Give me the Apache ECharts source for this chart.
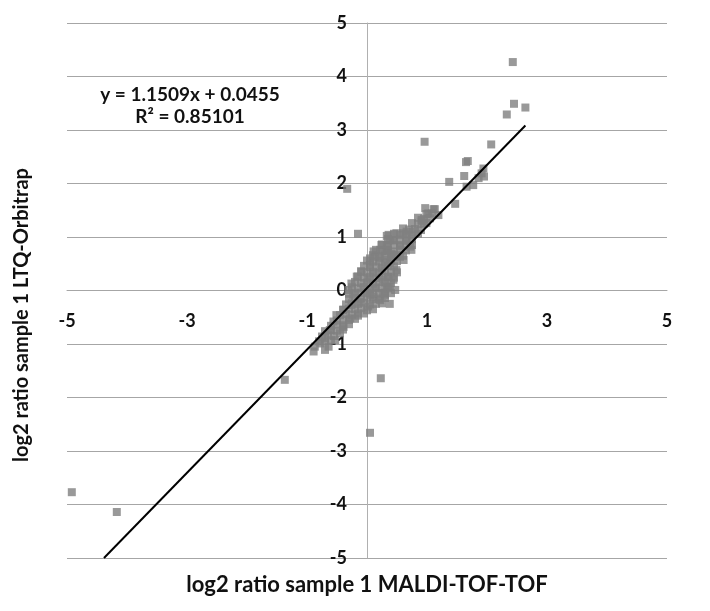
<!DOCTYPE html>
<html>
<head>
<meta charset="utf-8">
<script src="https://cdn.jsdelivr.net/npm/echarts@6/dist/echarts.min.js"></script>
<style>html,body{margin:0;padding:0;background:#fff;}#c{width:710px;height:611px;}</style>
</head>
<body>
<div id="c"></div>
<script>
// MALDI-TOF-TOF log2 ratios (x)
const maldiX = [
  -4.92, -4.17, -1.37, 0.23, 0.05, -0.33, -0.15, 0.96, 2.43, 2.45, 2.64, 2.33, 2.07, 1.68, 1.65, 1.62, 1.37, 1.94, 1.91, 1.95, 1.86, 1.77, 1.66, 1.47, 1.11, 0.99, 1.19, 0.91,
  0.97, 1.08, 0.91, 0.99, 0.77, 0.61, 0.36, 0.44, 0.66, 0.24, 0.55, 0.72, 0.11, 0.33, 0.44, 0.05, 0.22, 0.55,
  0.33, 0.22, 0.41, 0.13, 0.33, 0.05, 0.24, -0.09, 0.11, -0.17, 0.02, 0.27, -0.26, -0.06, 0.13, 0.38, -0.31, -0.23, 0.05, 0.27, 0.47,
  0.33, 0.74, 0.38, 0.61, 0.49, 0.36, 0.44, 0.33, 0.30, 0.38, 0.22,
  0.00, 0.11, -0.12, 0.02, -0.26, -0.39, -0.15, -0.51, -0.28, -0.56, -0.39, -0.62, -0.45, -0.70, -0.53, -0.78, -0.64, -0.87, -0.89, -0.70,
  0.33, 0.38, 0.49, 0.66, 1.02, 1.13,
  -0.80, -0.70, -0.60,
  -0.75, -0.65, -0.55,
  -0.70, -0.60, -0.50, -0.40,
  -0.60, -0.50, -0.40, -0.30,
  -0.50, -0.40, -0.30, -0.20,
  -0.45, -0.35, -0.25, -0.15, -0.05,
  -0.40, -0.30, -0.20, -0.10, 0.00, 0.10,
  -0.35, -0.25, -0.15, -0.05, 0.05, 0.15, 0.25,
  -0.30, -0.20, -0.10, 0.00, 0.10, 0.20, 0.30,
  -0.30, -0.20, -0.10, 0.00, 0.10, 0.20, 0.30, 0.40,
  -0.25, -0.15, -0.05, 0.05, 0.15, 0.25, 0.35,
  -0.20, -0.10, 0.00, 0.10, 0.20, 0.30, 0.40,
  -0.15, -0.05, 0.05, 0.15, 0.25, 0.35, 0.45,
  -0.10, 0.00, 0.10, 0.20, 0.30, 0.40, 0.50,
  -0.05, 0.05, 0.15, 0.25, 0.35, 0.45,
  0.00, 0.10, 0.20, 0.30, 0.40, 0.50,
  0.10, 0.20, 0.30, 0.40, 0.50, 0.60,
  0.15, 0.25, 0.35, 0.45, 0.55, 0.65,
  0.25, 0.35, 0.45, 0.55, 0.65, 0.75,
  0.35, 0.45, 0.55, 0.65, 0.75,
  0.45, 0.55, 0.65, 0.75, 0.85,
  0.60, 0.70, 0.80, 0.90,
  0.75, 0.85, 0.95,
  0.85, 0.95, 1.05
];
// LTQ-Orbitrap log2 ratios (y)
const orbitrapY = [
  -3.77, -4.14, -1.67, -1.64, -2.66, 1.90, 1.06, 2.78, 4.27, 3.49, 3.42, 3.29, 2.73, 2.42, 2.40, 2.14, 2.03, 2.28, 2.19, 2.13, 2.10, 1.97, 1.94, 1.62, 1.52, 1.43, 1.41, 1.29,
  1.54, 1.44, 1.32, 1.26, 1.10, 1.07, 1.04, 0.94, 0.94, 0.85, 0.85, 0.82, 0.73, 0.73, 0.66, 0.60, 0.60, 0.63,
  0.85, 0.76, 0.69, 0.63, 0.57, 0.48, 0.41, 0.35, 0.32, 0.26, 0.20, 0.20, 0.13, 0.07, 0.04, 0.07, 0.01, -0.08, -0.08, -0.05, 0.01,
  0.76, 0.76, 0.51, 0.57, 0.38, 0.26, 0.20, 0.07, -0.08, -0.25, -0.18,
  -0.05, -0.12, -0.21, -0.30, -0.27, -0.36, -0.43, -0.46, -0.52, -0.58, -0.68, -0.74, -0.80, -0.89, -0.93, -0.99, -1.05, -1.05, -1.14, -1.11,
  1.02, 0.94, 1.07, 1.10, 1.44, 1.52,
  -0.95, -0.96, -0.93,
  -0.86, -0.84, -0.85,
  -0.76, -0.74, -0.75, -0.73,
  -0.66, -0.64, -0.65, -0.63,
  -0.56, -0.54, -0.55, -0.53,
  -0.46, -0.44, -0.45, -0.47, -0.43,
  -0.36, -0.34, -0.35, -0.33, -0.37, -0.35,
  -0.26, -0.24, -0.25, -0.23, -0.26, -0.25, -0.24,
  -0.16, -0.14, -0.15, -0.13, -0.16, -0.15, -0.14,
  -0.06, -0.04, -0.05, -0.03, -0.06, -0.05, -0.04, -0.05,
  0.06, 0.04, 0.05, 0.03, 0.06, 0.05, 0.04,
  0.16, 0.14, 0.15, 0.13, 0.16, 0.15, 0.14,
  0.26, 0.24, 0.25, 0.23, 0.26, 0.25, 0.24,
  0.36, 0.34, 0.35, 0.33, 0.36, 0.35, 0.34,
  0.46, 0.44, 0.45, 0.43, 0.46, 0.45,
  0.56, 0.54, 0.55, 0.53, 0.56, 0.55,
  0.66, 0.64, 0.65, 0.63, 0.66, 0.65,
  0.76, 0.74, 0.75, 0.73, 0.76, 0.75,
  0.86, 0.84, 0.85, 0.83, 0.86, 0.85,
  0.96, 0.94, 0.95, 0.93, 0.96,
  1.06, 1.04, 1.05, 1.03, 1.06,
  1.16, 1.14, 1.15, 1.13,
  1.26, 1.24, 1.25,
  1.36, 1.34, 1.35
];
// Trendline (linear fit shown on chart)
const trendSlope = [1.1509];
const trendIntercept = [0.0455];
const rSquared = ['0.85101'];
const xTickLabels = ['-5', '-3', '-1', '1', '3', '5'];
const axisRange = [-5, 5];

const points = maldiX.map((x, i) => [x, orbitrapY[i]]);
const m = trendSlope[0], b = trendIntercept[0];
const xmin = Math.min(...maldiX), xmax = Math.max(...maldiX);
const xStart = Math.max(xmin, (axisRange[0] - b) / m);
const xEnd = Math.min(xmax, (axisRange[1] - b) / m);
const trend = [[xStart, m * xStart + b], [xEnd, m * xEnd + b]];

const FONT = 'Lato';
const GRID = { left: 67, right: 43, top: 23, bottom: 53 };
const plotW = 710 - GRID.left - GRID.right;
const plotH = 611 - GRID.top - GRID.bottom;

const chart = echarts.init(document.getElementById('c'), null, { renderer: 'canvas' });
chart.setOption({
  animation: false,
  backgroundColor: '#fff',
  grid: Object.assign({ containLabel: false }, GRID),
  xAxis: {
    type: 'value', min: axisRange[0], max: axisRange[1], interval: 1,
    offset: -plotH / 2,
    axisLine: { onZero: false, lineStyle: { color: '#a6a6a6', width: 1 } },
    axisTick: { show: false },
    splitLine: { show: false },
    axisLabel: {
      margin: 22, color: '#111', fontFamily: FONT, fontWeight: 'bold', fontSize: 18,
      formatter: v => (xTickLabels.indexOf(String(v)) >= 0 ? String(v) : '')
    }
  },
  yAxis: {
    type: 'value', min: axisRange[0], max: axisRange[1], interval: 1,
    offset: -plotW / 2,
    axisLine: { onZero: false, lineStyle: { color: '#b0b0b0', width: 1 } },
    axisTick: { show: false },
    splitLine: { show: true, lineStyle: { color: '#a6a6a6', width: 1 } },
    axisLabel: {
      margin: 20, color: '#111', fontFamily: FONT, fontWeight: 'bold', fontSize: 18,
      padding: [7, 0, 0, 0]
    }
  },
  series: [
    {
      type: 'scatter', data: points, symbol: 'rect', symbolSize: 8,
      itemStyle: { color: '#7f7f7f' }, z: 3
    },
    {
      type: 'line', data: trend, symbol: 'none', clip: true,
      lineStyle: { color: '#000', width: 2 }, z: 4
    }
  ],
  graphic: [
    {
      type: 'text', x: 190, y: 95,
      style: { text: 'y = ' + trendSlope[0] + 'x + ' + trendIntercept[0], font: 'bold 19px ' + FONT, fill: '#111', align: 'center', verticalAlign: 'middle' }
    },
    {
      type: 'text', x: 190, y: 117,
      style: { text: 'R² = ' + rSquared[0], font: 'bold 19px ' + FONT, fill: '#111', align: 'center', verticalAlign: 'middle' }
    },
    {
      type: 'text', x: 367, y: 585,
      style: { text: 'log2 ratio sample 1 MALDI-TOF-TOF', font: 'bold 22px ' + FONT, fill: '#111', align: 'center', verticalAlign: 'middle' }
    },
    {
      type: 'text', x: 22, y: 315, rotation: Math.PI / 2,
      style: { text: 'log2 ratio sample 1 LTQ-Orbitrap', font: 'bold 20px ' + FONT, fill: '#111', align: 'center', verticalAlign: 'middle' }
    }
  ]
});
</script>
</body>
</html>
